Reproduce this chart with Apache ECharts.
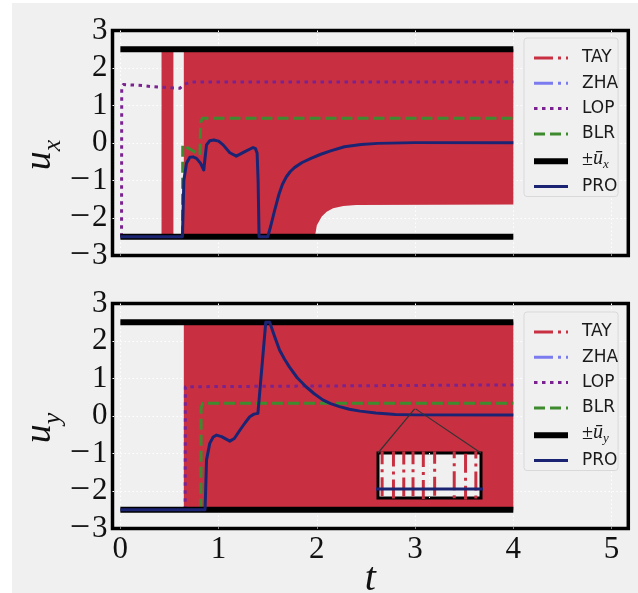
<!DOCTYPE html>
<html>
<head>
<meta charset="utf-8">
<script src="https://cdn.jsdelivr.net/npm/echarts@6.0.0/dist/echarts.min.js"></script>
<style>
  html, body { margin: 0; padding: 0; background: #ffffff; }
  #paper { position: absolute; left: 12px; top: 3px; width: 626px; height: 590px; background: #f0f0f0; }
  #chart { position: absolute; left: 0; top: 0; width: 638px; height: 593px; }
</style>
</head>
<body>
<div id="paper"></div>
<div id="chart"></div>
<script>
// ---------- tick labels ----------
const tTickValues = [0, 1, 2, 3, 4, 5];
const tTickLabels = ['0', '1', '2', '3', '4', '5'];
const uTickValues = [-3, -2, -1, 0, 1, 2, 3];
const uTickLabels = ['−3', '−2', '−1', '0', '1', '2', '3'];

// ---------- control bound ±ū ----------
const boundT = [0, 4];
const boundHi = [2.5, 2.5];
const boundLo = [-2.5, -2.5];

// ---------- u_x ----------
// TAY chatters between the bounds; drawn as its filled envelope
const tayUxBurstT = [0.419, 0.54];
const tayUxBurstHi = [2.5, 2.5];
const tayUxBurstLo = [-2.5, -2.5];
const tayUxHiT = [0.646, 4.0];
const tayUxHi = [2.5, 2.5];
const tayUxLoT = [0.646, 1.98, 2.0, 2.05, 2.1, 2.165, 2.27, 2.4, 4.0];
const tayUxLo = [-2.5, -2.5, -2.19, -1.96, -1.83, -1.74, -1.68, -1.65, -1.64];

const zhaUxT = [];
const zhaUx = [];

const lopUxT = [0.012, 0.014, 0.03, 0.1, 0.23, 0.33, 0.52, 0.605, 0.656, 0.714, 4.0];
const lopUx = [-2.5, 1.5, 1.56, 1.55, 1.53, 1.5, 1.47, 1.46, 1.57, 1.63, 1.63];

const blrUxT = [0.633, 0.635, 0.645, 0.81, 0.815, 0.818, 0.835, 4.0];
const blrUx = [-2.5, -0.05, 0.0, -0.32, 0.3, 0.55, 0.66, 0.66];

const proUxT = [0, 0.632, 0.646, 0.673, 0.707, 0.74, 0.775, 0.816, 0.849, 0.862, 0.877, 0.91,
  0.951, 1.0, 1.046, 1.114, 1.18, 1.267, 1.351, 1.375, 1.392, 1.402, 1.412, 1.5, 1.53, 1.57,
  1.615, 1.65, 1.69, 1.73, 1.775, 1.85, 1.94, 2.04, 2.14, 2.28, 2.45, 2.62, 3.0, 4.0];
const proUx = [-2.5, -2.5, -1.0, -0.54, -0.38, -0.37, -0.41, -0.54, -0.72, -0.4, -0.05, 0.06,
  0.08, 0.05, -0.05, -0.26, -0.35, -0.23, -0.12, -0.15, -0.27, -1.0, -2.5, -2.5, -2.22, -1.8,
  -1.36, -1.1, -0.9, -0.76, -0.65, -0.52, -0.41, -0.3, -0.21, -0.1, -0.04, -0.01, 0.01, 0.01];

// ---------- u_y ----------
const tayUyHiT = [0.646, 4.0];
const tayUyHi = [2.5, 2.5];
const tayUyLoT = [0.646, 4.0];
const tayUyLo = [-2.5, -2.5];

const zhaUyT = [];
const zhaUy = [];

const lopUyT = [0.66, 0.662, 0.68, 4.0];
const lopUy = [-2.5, 0.78, 0.83, 0.83];

const blrUyT = [0.82, 0.822, 0.84, 4.0];
const blrUy = [-2.5, 0.22, 0.34, 0.34];

const proUyT = [0, 0.862, 0.868, 0.877, 0.91, 0.945, 0.979, 1.03, 1.114, 1.16, 1.216, 1.27,
  1.317, 1.36, 1.4, 1.42, 1.48, 1.52, 1.57, 1.62, 1.67, 1.72, 1.8, 1.89, 1.97, 2.06, 2.14,
  2.23, 2.33, 2.44, 2.6, 2.8, 3.0, 4.0];
const proUy = [-2.5, -2.5, -2.0, -1.17, -0.73, -0.56, -0.51, -0.55, -0.67, -0.6, -0.38, -0.18,
  -0.02, 0.05, 0.07, 0.08, 2.5, 2.5, 2.12, 1.76, 1.52, 1.31, 1.02, 0.78, 0.6, 0.43, 0.33,
  0.25, 0.18, 0.13, 0.08, 0.04, 0.03, 0.03];

// ---------- zoomed window on u_y around t = 3 ----------
const insetTRange = [2.995, 3.005];
const insetURange = [-0.01, 0.19];
const tayInsetSwitchT = [2.9954, 2.9965, 2.9975, 2.9984, 2.9994, 3.0005, 3.0024, 3.0035, 3.0045];

// ---------- series names ----------
const uxBoundName = '±ū_x';
const uyBoundName = '±ū_y';

// ---------- styles ----------
const RED = '#c83042';
const ZHA_C = '#7b7bf0';
const PURPLE = '#7a2390';
const GREEN = '#3e8a2f';
const NAVY = '#1b2473';
const SERIF = 'Liberation Serif';

const zip = (t, v) => t.map((x, i) => [x, v[i]]);

// TAY switching instants: each one is a full swing between the bounds
const tayInsetData = [];
tayInsetSwitchT.forEach((t, i) => {
  if (i % 2 === 0) { tayInsetData.push([t, boundHi[0]], [t, boundLo[0]]); }
  else { tayInsetData.push([t, boundLo[0]], [t, boundHi[0]]); }
});

const tayUxBands = [
  { hiT: tayUxBurstT, hi: tayUxBurstHi, loT: tayUxBurstT, lo: tayUxBurstLo },
  { hiT: tayUxHiT, hi: tayUxHi, loT: tayUxLoT, lo: tayUxLo }
];
const tayUyBands = [
  { hiT: tayUyHiT, hi: tayUyHi, loT: tayUyLoT, lo: tayUyLo }
];

function bandRenderer(bands) {
  return function (params, api) {
    const b = bands[params.dataIndex];
    const pts = [];
    for (let i = 0; i < b.hiT.length; i++) pts.push(api.coord([b.hiT[i], b.hi[i]]));
    for (let i = b.loT.length - 1; i >= 0; i--) pts.push(api.coord([b.loT[i], b.lo[i]]));
    return { type: 'polygon', shape: { points: pts, smooth: 0 }, style: { fill: RED } };
  };
}

const DASHDOT = [19, 5, 3, 5];
const DOTTED = [3.5, 4.5];
const DASHED = [11, 5];

function line(name, gi, data, color, width, type, z) {
  return {
    type: 'line', name, xAxisIndex: gi, yAxisIndex: gi, data,
    symbol: 'none', showSymbol: false, animation: false, z: z || 2,
    lineStyle: { color, width, type: type || 'solid', cap: 'butt', join: 'round' },
    itemStyle: { color }, emphasis: { disabled: true }
  };
}

const GRIDLINE = { color: '#ffffff', type: [1.5, 2.5], width: 1 };

function xAxisFor(gi, withLabels) {
  return {
    type: 'value', gridIndex: gi, min: -0.08, max: 5.17,
    axisLine: { show: false }, axisTick: { show: false },
    axisLabel: {
      show: withLabels, margin: 6, color: '#111', fontFamily: SERIF, fontSize: 31,
      hideOverlap: false,
      formatter: v => { const i = tTickValues.findIndex(x => Math.abs(x - v) < 1e-9); return i < 0 ? '' : tTickLabels[i]; }
    },
    splitLine: { show: true, showMinLine: false, showMaxLine: false, lineStyle: GRIDLINE },
    name: withLabels ? 't' : '', nameLocation: 'middle', nameGap: 31, nameMoveOverlap: false,
    nameTextStyle: { fontFamily: SERIF, fontStyle: 'italic', fontSize: 40, color: '#111' }
  };
}

function yAxisFor(gi, sub) {
  return {
    type: 'value', gridIndex: gi, min: -3, max: 3, interval: 1,
    axisLine: { show: false }, axisTick: { show: false },
    axisLabel: {
      margin: 5, color: '#111', fontFamily: SERIF, fontSize: 31,
      showMinLabel: true, showMaxLabel: true, hideOverlap: false,
      formatter: v => {
        const i = uTickValues.findIndex(x => Math.abs(x - v) < 1e-9);
        if (i < 0) return '';
        const s = uTickLabels[i];
        return s.charAt(0) === '−' ? '{m|−}' + s.slice(1) : s;
      },
      rich: { m: { fontFamily: SERIF, fontSize: 36, color: '#111', padding: [0, 2, 0, 0] } }
    },
    splitLine: { show: true, showMinLine: false, showMaxLine: false, lineStyle: GRIDLINE },
    name: '{u|u}{s|' + sub + '}', nameLocation: 'middle', nameGap: 46, nameRotate: 90, nameMoveOverlap: false,
    nameTextStyle: {
      rich: {
        u: { fontFamily: SERIF, fontStyle: 'italic', fontSize: 38, color: '#111', verticalAlign: 'bottom', lineHeight: 38, padding: [0, 0, 7, 0] },
        s: { fontFamily: SERIF, fontStyle: 'italic', fontSize: 26, color: '#111', verticalAlign: 'bottom', lineHeight: 26, padding: [0, 24, 0, 0] }
      }
    }
  };
}

function legendFor(top, boundName, sub) {
  const text = { fontFamily: SERIF, color: '#1a1a1a', verticalAlign: 'bottom' };
  return {
    orient: 'vertical', left: 524, top, selectedMode: false,
    padding: [10, 0, 0, 7], itemWidth: 34, itemHeight: 20, itemGap: 5.3,
    backgroundColor: '#f0f0f0', borderColor: '#d9d9d9', borderWidth: 1, borderRadius: 3,
    itemStyle: { opacity: 0 },
    lineStyle: { width: 'inherit' },
    data: ['TAY', 'ZHA', 'LOP', 'BLR', boundName, 'PRO'],
    formatter: n => n === boundName ? '{pm|±}{u|ū}{s|' + sub + '}' : n,
    textStyle: {
      fontFamily: 'DejaVu Sans', fontSize: 17, color: '#1a1a1a', lineHeight: 20, width: 32,
      padding: [0, 0, 0, 9],
      rich: {
        pm: Object.assign({ fontSize: 20, lineHeight: 20, padding: [0, 0, 1, 0] }, text),
        u: Object.assign({ fontStyle: 'italic', fontSize: 20, lineHeight: 20, padding: [0, 0, 2, 0] }, text),
        s: Object.assign({ fontStyle: 'italic', fontSize: 13, lineHeight: 14 }, text)
      }
    }
  };
}

const series = [
  // zoomed window (listed first so its TAY style defines the legend sample)
  line('TAY', 2, tayInsetData, RED, 3, DASHDOT, 5),
  line('PRO', 2, zip(proUyT, proUy), NAVY, 3, 'solid', 6),

  // u_x panel
  { type: 'custom', name: 'TAY', xAxisIndex: 0, yAxisIndex: 0, renderItem: bandRenderer(tayUxBands),
    data: tayUxBands.map(b => [b.hiT[0], b.hi[0]]), animation: false, silent: true, z: 2 },
  line('ZHA', 0, zip(zhaUxT, zhaUx), ZHA_C, 3, DASHDOT),
  line('LOP', 0, zip(lopUxT, lopUx), PURPLE, 3, DOTTED),
  line('BLR', 0, zip(blrUxT, blrUx), GREEN, 3, DASHED),
  line(uxBoundName, 0, zip(boundT, boundHi), '#000000', 6),
  line(uxBoundName, 0, zip(boundT, boundLo), '#000000', 6),
  line('PRO', 0, zip(proUxT, proUx), NAVY, 3),

  // u_y panel
  { type: 'custom', name: 'TAY', xAxisIndex: 1, yAxisIndex: 1, renderItem: bandRenderer(tayUyBands),
    data: tayUyBands.map(b => [b.hiT[0], b.hi[0]]), animation: false, silent: true, z: 2 },
  line('ZHA', 1, zip(zhaUyT, zhaUy), ZHA_C, 3, DASHDOT),
  line('LOP', 1, zip(lopUyT, lopUy), PURPLE, 3, DOTTED),
  line('BLR', 1, zip(blrUyT, blrUy), GREEN, 3, DASHED),
  line(uyBoundName, 1, zip(boundT, boundHi), '#000000', 6),
  line(uyBoundName, 1, zip(boundT, boundLo), '#000000', 6),
  line('PRO', 1, zip(proUyT, proUy), NAVY, 3)
];

const gridBase = { show: true, containLabel: false, outerBoundsMode: 'none', backgroundColor: '#f0f0f0', borderColor: '#000' };

const chart = echarts.init(document.getElementById('chart'), null, { renderer: 'canvas' });
const option = {
  animation: false,
  backgroundColor: 'transparent',
  grid: [
    Object.assign({ left: 112.5, top: 30.5, width: 515.8, height: 225, borderWidth: 3.5 }, gridBase),
    Object.assign({ left: 112.5, top: 303.5, width: 515.8, height: 225, borderWidth: 3.5 }, gridBase),
    Object.assign({ left: 378, top: 453, width: 103, height: 45, z: 3, borderWidth: 3 }, gridBase)
  ],
  xAxis: [
    xAxisFor(0, false),
    xAxisFor(1, true),
    { type: 'value', gridIndex: 2, min: insetTRange[0], max: insetTRange[1], interval: 0.005, z: 3,
      axisLine: { show: false }, axisTick: { show: false }, axisLabel: { show: false },
      splitLine: { show: true, showMinLine: false, showMaxLine: false, lineStyle: GRIDLINE } }
  ],
  yAxis: [
    yAxisFor(0, 'x'),
    yAxisFor(1, 'y'),
    { type: 'value', gridIndex: 2, min: insetURange[0], max: insetURange[1],
      axisLine: { show: false }, axisTick: { show: false }, axisLabel: { show: false }, splitLine: { show: false } }
  ],
  legend: [legendFor(38, uxBoundName, 'x'), legendFor(312, uyBoundName, 'y')],
  series
};
chart.setOption(option);

// connector lines from the zoomed window to the region it magnifies
const cornerL = chart.convertToPixel({ xAxisIndex: 2, yAxisIndex: 2 }, [insetTRange[0], insetURange[1]]);
const cornerR = chart.convertToPixel({ xAxisIndex: 2, yAxisIndex: 2 }, [insetTRange[1], insetURange[1]]);
const srcL = chart.convertToPixel({ xAxisIndex: 1, yAxisIndex: 1 }, [insetTRange[0], insetURange[1]]);
const srcR = chart.convertToPixel({ xAxisIndex: 1, yAxisIndex: 1 }, [insetTRange[1], insetURange[1]]);
chart.setOption({
  graphic: [
    { type: 'line', z: 4, silent: true, shape: { x1: cornerL[0], y1: cornerL[1], x2: srcL[0], y2: srcL[1] }, style: { stroke: '#333333', lineWidth: 1.2 } },
    { type: 'line', z: 4, silent: true, shape: { x1: cornerR[0], y1: cornerR[1], x2: srcR[0], y2: srcR[1] }, style: { stroke: '#333333', lineWidth: 1.2 } }
  ]
});
</script>
</body>
</html>
